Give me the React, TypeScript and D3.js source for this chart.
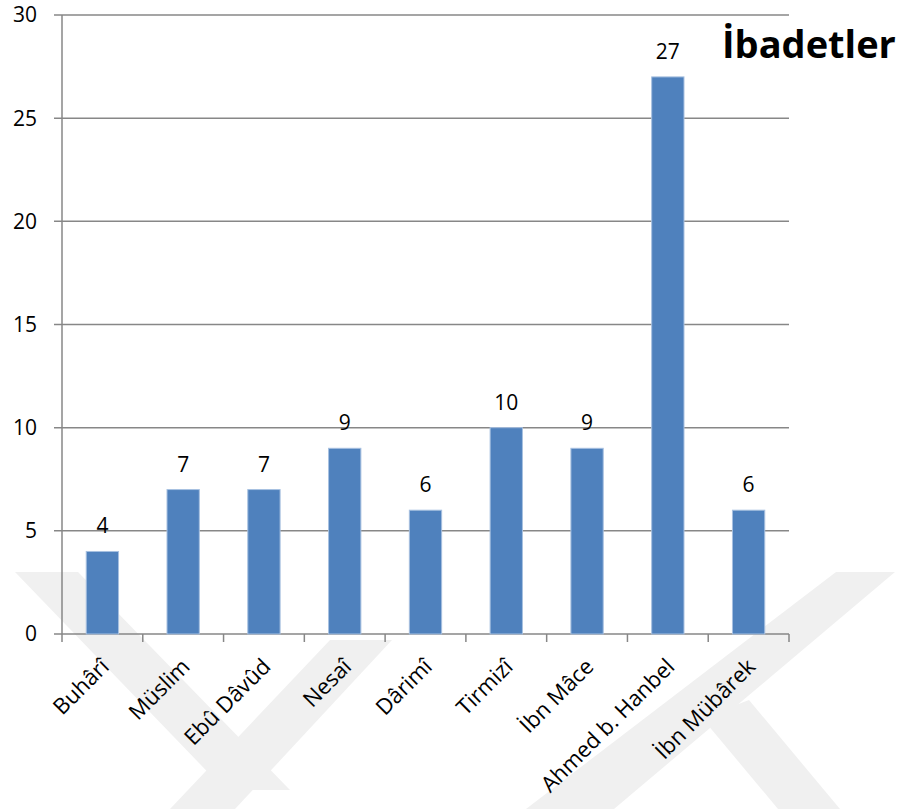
import React from 'react';
import * as d3 from 'd3';

const categories = ['Buhârî', 'Müslim', 'Ebû Dâvûd', 'Nesaî', 'Dârimî', 'Tirmizî', 'İbn Mâce', 'Ahmed b. Hanbel', 'İbn Mübârek'];
const values = [4, 7, 7, 9, 6, 10, 9, 27, 6];
const yTicks = [0, 5, 10, 15, 20, 25, 30];
const title = 'İbadetler';

// faint page watermark behind the chart
const watermark: [number, number][][] = [
  [[15, 572], [78, 572], [290, 790], [225, 790]],
  [[330, 640], [392, 640], [235, 809], [170, 809]],
  [[836, 572], [895, 572], [614, 809], [526, 809]],
  [[702, 718], [749, 700], [840, 809], [778, 809]],
];

const W = 907;
const H = 809;
const left = 62;
const right = 789;
const top = 15;
const bottom = 634;
const font = "'Open Sans', sans-serif";

export default function App() {
  const x = d3.scaleBand<string>().domain(categories).range([left, right]).padding(0);
  const y = d3.scaleLinear().domain([0, 30]).range([bottom, top]);
  const bw = x.bandwidth() * 0.4;
  const boundaries = d3.range(categories.length + 1).map(i => left + i * x.step());
  const line = d3.line();

  return (
    <div style={{ position: 'absolute', left: 0, top: 0 }}>
      <svg width={W} height={H} style={{ display: 'block', background: '#fff' }}>
        {watermark.map((p, i) => (
          <path key={i} d={line(p) + 'Z'} fill="#f0f0f0" />
        ))}
        {yTicks.map(t => (
          <g key={t}>
            <line x1={left - 8} x2={right} y1={y(t)} y2={y(t)} stroke="#878787" strokeWidth={1.5} />
            <text x={37} y={y(t)} dy="0.35em" textAnchor="end" fontFamily={font} fontSize={21} fill="#000">{t}</text>
          </g>
        ))}
        <line x1={left} x2={left} y1={top} y2={bottom} stroke="#878787" strokeWidth={1.5} />
        {boundaries.map((b, i) => (
          <line key={i} x1={b} x2={b} y1={bottom} y2={bottom + 8} stroke="#878787" strokeWidth={1.5} />
        ))}
        {categories.map((c, i) => {
          const cx = (x(c) as number) + x.bandwidth() / 2;
          return (
            <g key={c}>
              <rect x={cx - bw / 2} y={y(values[i])} width={bw} height={bottom - y(values[i])}
                fill="#4f81bd" stroke="#a7c0e0" strokeWidth={1} />
              <text x={cx} y={y(values[i]) - 18} textAnchor="middle" fontFamily={font} fontSize={21} fill="#000">{values[i]}</text>
              <text transform={`translate(${cx + 8},${bottom + 34}) rotate(-45)`} textAnchor="end"
                fontFamily={font} fontSize={22} fill="#000">{c}</text>
            </g>
          );
        })}
        <text x={722} y={58} fontFamily={font} fontSize={38} fontWeight="bold" fill="#000">{title}</text>
      </svg>
    </div>
  );
}
